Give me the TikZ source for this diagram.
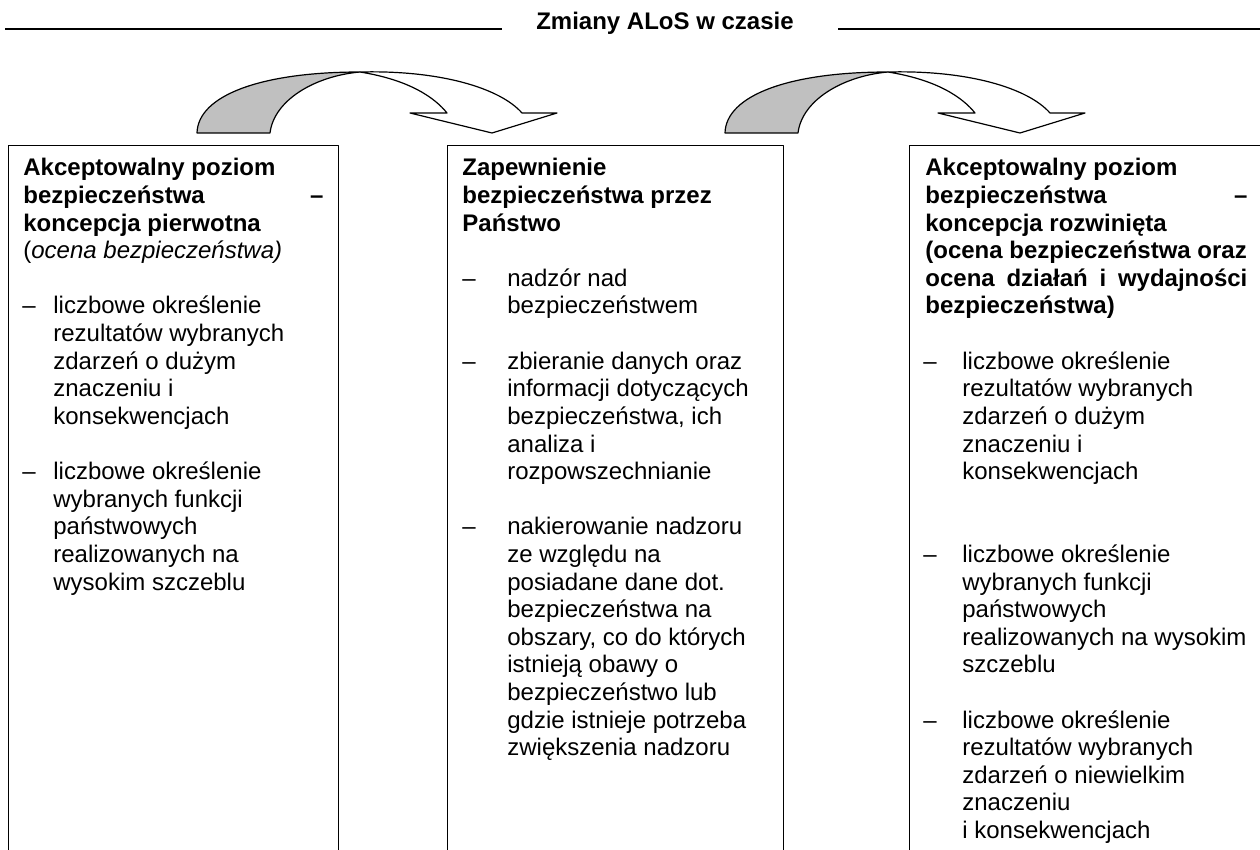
\documentclass[tikz,border=0pt]{standalone}
\usepackage{fontspec}
\setmainfont{Liberation Sans}
\usepackage{xcolor}
\definecolor{bandgray}{HTML}{C0C0C0}
\usepackage{tikz}
\usetikzlibrary{positioning}
\tikzset{
  every picture/.style={line join=round},
  % multi-line nodes: the base anchor sits on the last line
  boxtxt/.style={font=\fontsize{12}{13.8}\selectfont, anchor=base west, align=left, inner sep=0pt},
  headtxt/.style={boxtxt, font=\fontsize{12}{13.8}\selectfont\bfseries},
  titletxt/.style={font=\fontsize{12}{13.8}\selectfont\bfseries, anchor=base, inner sep=0pt},
  dashmark/.style={boxtxt},
  frame/.style={black, line width=0.5pt},
  titleline/.style={black, line width=1pt},
  bandback/.style={fill=bandgray, draw=black, line width=0.6pt},
  bandfront/.style={fill=white, draw=black, line width=0.6pt},
}

\begin{document}
\begin{tikzpicture}[x=0.5pt, y=-0.5pt]
\useasboundingbox (0,0) rectangle (1260,850);
% title with rules
\node[titletxt] (title) at (665,30) {Zmiany ALoS w czasie};
\draw[titleline] (5,29) -- (502,29);
\draw[titleline] (838,29) -- (1260,29);
% bent arrows between the boxes
\foreach \dx in {0,528} {
  \begin{scope}[shift={(\dx,0)}]
    \draw[bandfront] (360,72) .. controls (440,70) and (500,88) .. (522,113)
      -- (557,113) -- (492,133) -- (410,113) -- (447,113)
      .. controls (435,98) and (410,80) .. (360,72) -- cycle;
    \draw[bandback] (197,133) .. controls (198,95) and (262,72) .. (360,72)
      .. controls (315,76) and (274,100) .. (270,133) -- cycle;
  \end{scope}
}
% frames, open at the bottom
\draw[frame] (8,850) |- (338,146) -- (338,850);
\draw[frame] (447,850) |- (783,146) -- (783,850);
\draw[frame] (909,850) |- (1260,146);
% first box
\node[headtxt] (head1) at (23,258.8) {Akceptowalny poziom\\
  \makebox[150pt][s]{bezpieczeństwa –}\\
  koncepcja pierwotna\\
  \mdseries(\textit{ocena bezpieczeństwa)}};
\node[boxtxt] (item1a) at (53,424.4) {liczbowe określenie\\rezultatów wybranych\\zdarzeń o dużym\\znaczeniu i\\konsekwencjach};
\node[dashmark] (dash1a) at (22,314) {–};
\node[boxtxt] (item1b) at (53,590) {liczbowe określenie\\wybranych funkcji\\państwowych\\realizowanych na\\wysokim szczeblu};
\node[dashmark] (dash1b) at (22,479.6) {–};
% second box
\node[headtxt] (head2) at (462,231.2) {Zapewnienie\\bezpieczeństwa przez\\Państwo};
\node[boxtxt] (item2a) at (507,314) {nadzór nad\\bezpieczeństwem};
\node[dashmark] (dash2a) at (462,286.4) {–};
\node[boxtxt] (item2b) at (507,479.6) {zbieranie danych oraz\\informacji dotyczących\\bezpieczeństwa, ich\\analiza i\\rozpowszechnianie};
\node[dashmark] (dash2b) at (462,369.2) {–};
\node[boxtxt] (item2c) at (507,755.6) {nakierowanie nadzoru\\ze względu na\\posiadane dane dot.\\bezpieczeństwa na\\obszary, co do których\\istnieją obawy o\\bezpieczeństwo lub\\gdzie istnieje potrzeba\\zwiększenia nadzoru};
\node[dashmark] (dash2c) at (462,534.8) {–};
% third box
\node[headtxt] (head3) at (925,314) {Akceptowalny poziom\\
  \makebox[161pt][s]{bezpieczeństwa –}\\
  koncepcja rozwinięta\\
  (ocena bezpieczeństwa oraz\\
  \makebox[161pt][s]{ocena działań i wydajności}\\
  bezpieczeństwa)};
\node[boxtxt] (item3a) at (962,479.6) {liczbowe określenie\\rezultatów wybranych\\zdarzeń o dużym\\znaczeniu i\\konsekwencjach};
\node[dashmark] (dash3a) at (923,369.2) {–};
\node[boxtxt] (item3b) at (962,672.8) {liczbowe określenie\\wybranych funkcji\\państwowych\\realizowanych na wysokim\\szczeblu};
\node[dashmark] (dash3b) at (923,562.4) {–};
\node[boxtxt] (item3c) at (962,838.4) {liczbowe określenie\\rezultatów wybranych\\zdarzeń o niewielkim\\znaczeniu\\i konsekwencjach};
\node[dashmark] (dash3c) at (923,728) {–};
\end{tikzpicture}
\end{document}
